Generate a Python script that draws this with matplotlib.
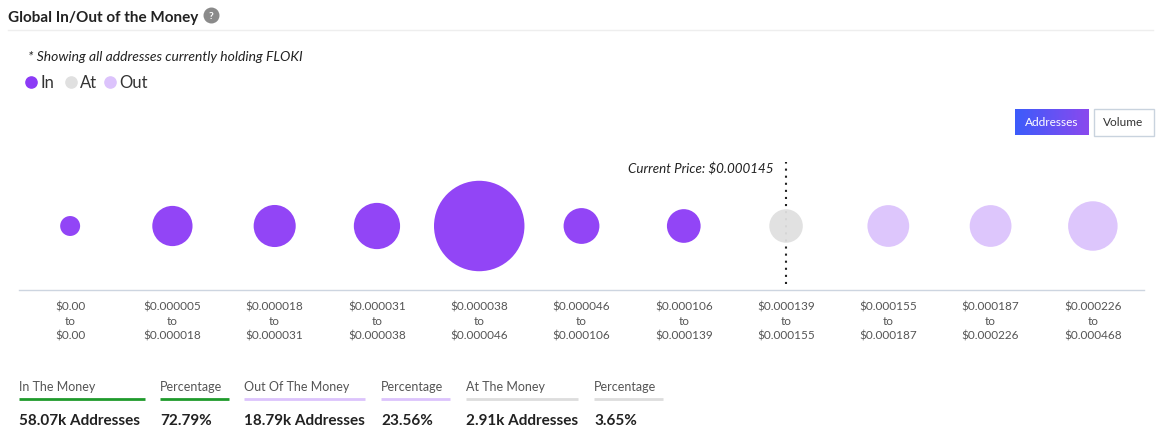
import matplotlib
matplotlib.use("Agg")
import matplotlib.pyplot as plt
import numpy as np

# price bins (labels as shown on the chart)
bin_low = ["$0.00", "$0.000005", "$0.000018", "$0.000031", "$0.000038", "$0.000046",
           "$0.000106", "$0.000139", "$0.000155", "$0.000187", "$0.000226"]
bin_high = ["$0.00", "$0.000018", "$0.000031", "$0.000038", "$0.000046", "$0.000106",
            "$0.000139", "$0.000155", "$0.000187", "$0.000226", "$0.000468"]
status = ["in"] * 7 + ["at"] + ["out"] * 3
# addresses per bin, in thousands
addresses_k = [0.52, 4.8, 5.4, 6.9, 34.0, 3.5, 2.95, 2.91, 5.3, 5.3, 8.19]

current_price = "$0.000145"
summary_labels = ["In The Money", "Percentage", "Out Of The Money", "Percentage",
                  "At The Money", "Percentage"]
summary_values = ["58.07k Addresses", "72.79%", "18.79k Addresses", "23.56%",
                  "2.91k Addresses", "3.65%"]

colors = {"in": "#8c3bf6", "at": "#e0e0e0", "out": "#dcc3fc"}
summary_line_colors = ["#1f9a2c", "#1f9a2c", "#dcc3fc", "#dcc3fc", "#dddddd", "#dddddd"]

plt.rcParams["font.family"] = ["Lato", "DejaVu Sans"]

W, H = 1161, 431
fig = plt.figure(figsize=(W / 100, H / 100), dpi=100)

# overlay axes in pixel coordinates for the page furniture
ov = fig.add_axes([0, 0, 1, 1], zorder=0)
ov.set_xlim(0, W)
ov.set_ylim(H, 0)
ov.axis("off")

# header
ov.text(8, 18, "Global In/Out of the Money", fontsize=11, fontweight="bold",
        color="#222222", va="center", ha="left")
ov.scatter([211], [16], s=110, color="#8a8a8a", zorder=3)
ov.text(211, 16.5, "?", fontsize=7.5, fontweight="bold", color="white",
        ha="center", va="center", zorder=4)
ov.plot([8, 1153], [31, 31], color="#eeeeee", lw=1)

ov.text(28, 57, "* Showing all addresses currently holding FLOKI", fontsize=10,
        style="italic", color="#222222", va="center")

# legend
for x, key, label in [(31, "in", "In"), (71, "at", "At"), (110, "out", "Out")]:
    ov.scatter([x], [83], s=65, color=colors[key], zorder=3)
    ov.text(x + 9, 83.5, label, fontsize=12, color="#333333", va="center")

# buttons
grad = np.linspace(0, 1, 100).reshape(1, -1)
cmap = matplotlib.colors.LinearSegmentedColormap.from_list("btn", ["#3c5cfb", "#8a49ee"])
ov.imshow(grad, cmap=cmap, extent=(1015, 1089, 136, 110), aspect="auto", zorder=2)
ov.text(1052, 123, "Addresses", fontsize=8.6, color="white", ha="center", va="center", zorder=3)
ov.add_patch(plt.Rectangle((1093.5, 109.5), 60, 27, facecolor="white",
                           edgecolor="#c9d3de", lw=1, zorder=2))
ov.text(1123.5, 123, "Volume", fontsize=8.6, color="#333333", ha="center", va="center", zorder=3)

# bubble chart
top_px, base_px, left_px, right_px = 150, 291, 19, 1144
ax = fig.add_axes([left_px / W, (H - base_px) / H, (right_px - left_px) / W,
                   (base_px - top_px) / H], zorder=1)
ax.patch.set_alpha(0)
n = len(addresses_k)
xs = np.arange(n) + 0.5
ax.set_xlim(0, n)
ax.set_ylim(0, 1)
y_center = (base_px - 227) / (base_px - top_px)

vals = np.array(addresses_k)
diam_px = 10 + 13.8 * np.sqrt(vals)
sizes = (diam_px * 0.72) ** 2
ax.scatter(xs, np.full(n, y_center), s=sizes, c=[colors[s] for s in status],
           linewidths=0, zorder=3, alpha=0.95)

at_idx = status.index("at")
ax.plot([xs[at_idx], xs[at_idx]], [(base_px - 285) / (base_px - top_px),
                                   (base_px - 163) / (base_px - top_px)],
        color="#222222", lw=1.5, linestyle=(0, (1, 2.4)), zorder=2)
ax.text(xs[at_idx] - 0.12, (base_px - 169) / (base_px - top_px),
        f"Current Price: {current_price}", fontsize=9.6, style="italic",
        color="#222222", ha="right", va="center")

ax.set_xticks(xs)
ax.set_xticklabels([f"{lo}\nto\n{hi}" for lo, hi in zip(bin_low, bin_high)],
                   fontsize=8.5, color="#555555", linespacing=1.4)
ax.tick_params(axis="x", length=0, pad=7.5)
ax.set_yticks([])
for side in ["top", "left", "right"]:
    ax.spines[side].set_visible(False)
ax.spines["bottom"].set_color("#cdd5e0")
ax.spines["bottom"].set_linewidth(1)

# summary row
col_x = [19, 160, 244, 381, 466, 594]
col_w = [126, 69, 121, 69, 112, 69]
for x, w, lab, val, lc in zip(col_x, col_w, summary_labels, summary_values, summary_line_colors):
    ov.text(x, 387, lab, fontsize=9, color="#555555", va="center")
    ov.plot([x, x + w], [400, 400], color=lc, lw=2, solid_capstyle="butt")
    ov.text(x, 421.5, val, fontsize=11, fontweight="bold", color="#222222", va="center")

fig.savefig("out.png", dpi=100)
